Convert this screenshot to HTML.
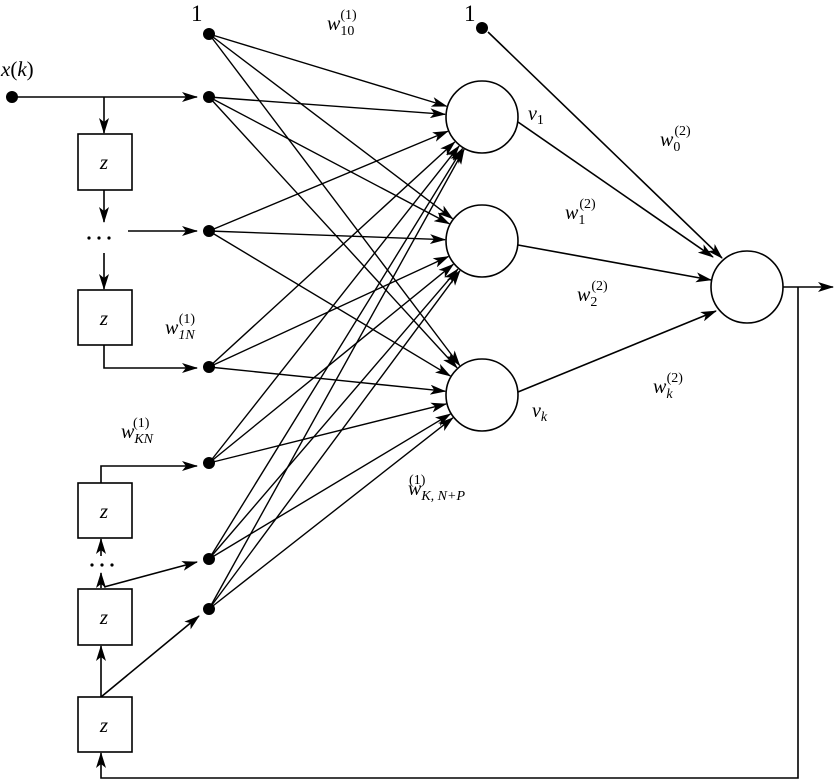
<!DOCTYPE html>
<html><head><style>
html,body{margin:0;padding:0;background:#fff;}
svg{display:block;}
text{font-family:"Liberation Serif",serif;font-style:italic;fill:#000;}
.n{font-style:normal;}
</style></head><body>
<svg width="834" height="782" viewBox="0 0 834 782" xmlns="http://www.w3.org/2000/svg">
<defs>
<marker id="a" markerWidth="16" markerHeight="10" refX="15" refY="5" orient="auto" markerUnits="userSpaceOnUse">
<path d="M0,0 L16,5 L0,10 L4,5 Z" fill="#000"/>
</marker>
</defs>
<g stroke="#000" stroke-width="1.6" fill="none">
<line x1="12" y1="97" x2="197" y2="97" marker-end="url(#a)"/>
<line x1="104" y1="97" x2="104" y2="133" marker-end="url(#a)"/>
<rect x="78" y="134" width="54" height="56"/>
<line x1="104" y1="190" x2="104" y2="222" marker-end="url(#a)"/>
<line x1="128" y1="231" x2="197" y2="231" marker-end="url(#a)"/>
<line x1="104" y1="253" x2="104" y2="289" marker-end="url(#a)"/>
<rect x="78" y="290" width="54" height="55"/>
<polyline points="104,345 104,368 197,368" marker-end="url(#a)"/>
<polyline points="101,483 101,466 197,466" marker-end="url(#a)"/>
<rect x="78" y="483" width="54" height="55"/>
<line x1="101" y1="556" x2="101" y2="539" marker-end="url(#a)"/>
<rect x="78" y="589" width="54" height="56"/>
<line x1="101" y1="588" x2="101" y2="573" marker-end="url(#a)"/>
<line x1="104" y1="587" x2="197" y2="562" marker-end="url(#a)"/>
<line x1="101" y1="697" x2="101" y2="646" marker-end="url(#a)"/>
<line x1="101" y1="697" x2="199" y2="616" marker-end="url(#a)"/>
<rect x="78" y="697" width="54" height="55"/>
<polyline points="798,287 798,778 101,778 101,753" marker-end="url(#a)"/>
<line x1="783" y1="287" x2="833" y2="287" marker-end="url(#a)"/>
<line x1="488" y1="32" x2="722" y2="258" marker-end="url(#a)"/>
<line x1="518" y1="122" x2="713" y2="257" marker-end="url(#a)"/>
<line x1="518" y1="245" x2="711" y2="280" marker-end="url(#a)"/>
<line x1="518" y1="392" x2="716" y2="311" marker-end="url(#a)"/>
<circle cx="482" cy="117" r="36" fill="#fff"/>
<circle cx="482" cy="241" r="36" fill="#fff"/>
<circle cx="482" cy="395" r="36" fill="#fff"/>
<circle cx="747" cy="287" r="36" fill="#fff"/>
</g>
<g fill="#000">
<circle cx="12" cy="97" r="6"/>
<circle cx="209" cy="34" r="6"/>
<circle cx="209" cy="97" r="6"/>
<circle cx="209" cy="231" r="6"/>
<circle cx="209" cy="367" r="6"/>
<circle cx="209" cy="463" r="6"/>
<circle cx="209" cy="559" r="6"/>
<circle cx="209" cy="609" r="6"/>
<circle cx="482" cy="28" r="6"/>
<circle cx="89" cy="238" r="1.6"/><circle cx="99" cy="238" r="1.6"/><circle cx="109" cy="238" r="1.6"/>
<circle cx="92" cy="565" r="1.6"/><circle cx="102" cy="565" r="1.6"/><circle cx="112" cy="565" r="1.6"/>
</g>
<g id="lines" stroke="#000" stroke-width="1.4"></g>
<script>
var ins=[34,97,231,367,463,559,609],hs=[117,241,395],g=document.getElementById('lines');
ins.forEach(function(y){hs.forEach(function(hy){
var dx=482-209,dy=hy-y,L=Math.sqrt(dx*dx+dy*dy),ux=dx/L,uy=dy/L;
var l=document.createElementNS('http://www.w3.org/2000/svg','line');
l.setAttribute('x1',209);l.setAttribute('y1',y);
l.setAttribute('x2',482-ux*37);l.setAttribute('y2',hy-uy*37);
l.setAttribute('marker-end','url(#a)');g.appendChild(l);});});
</script>
<g font-size="20">
<text x="104" y="169" text-anchor="middle" font-size="21">z</text>
<text x="104" y="325" text-anchor="middle" font-size="21">z</text>
<text x="104" y="518" text-anchor="middle" font-size="21">z</text>
<text x="104" y="624" text-anchor="middle" font-size="21">z</text>
<text x="104" y="732" text-anchor="middle" font-size="21">z</text>
<text x="191" y="21" class="n" font-size="23">1</text>
<text x="464" y="21" class="n" font-size="23">1</text>
<text x="1" y="76" font-size="21">x<tspan class="n">(</tspan>k<tspan class="n">)</tspan></text>
<text x="327" y="30">w<tspan font-size="14" class="n" dy="5">10</tspan><tspan font-size="14" class="n" dx="-14" dy="-16">(1)</tspan></text>
<text x="528" y="120">v<tspan font-size="14" class="n" dy="4">1</tspan></text>
<text x="532" y="417">v<tspan font-size="14" dy="4">k</tspan></text>
<text x="660" y="146">w<tspan font-size="14" class="n" dy="5">0</tspan><tspan font-size="14" class="n" dx="-6" dy="-16">(2)</tspan></text>
<text x="565" y="219">w<tspan font-size="14" class="n" dy="5">1</tspan><tspan font-size="14" class="n" dx="-6" dy="-16">(2)</tspan></text>
<text x="577" y="301">w<tspan font-size="14" class="n" dy="5">2</tspan><tspan font-size="14" class="n" dx="-6" dy="-16">(2)</tspan></text>
<text x="653" y="393">w<tspan font-size="14" dy="5">k</tspan><tspan font-size="14" class="n" dx="-6" dy="-16">(2)</tspan></text>
<text x="165" y="334">w<tspan font-size="14" dy="5">1N</tspan><tspan font-size="14" class="n" dx="-16" dy="-16">(1)</tspan></text>
<text x="121" y="438">w<tspan font-size="14" dy="5">KN</tspan><tspan font-size="14" class="n" dx="-20" dy="-16">(1)</tspan></text>
<text x="408" y="495">w<tspan font-size="14" dy="5">K, N+P</tspan><tspan font-size="14" class="n" dx="-56" dy="-16">(1)</tspan></text>
</g>
</svg>
</body></html>
